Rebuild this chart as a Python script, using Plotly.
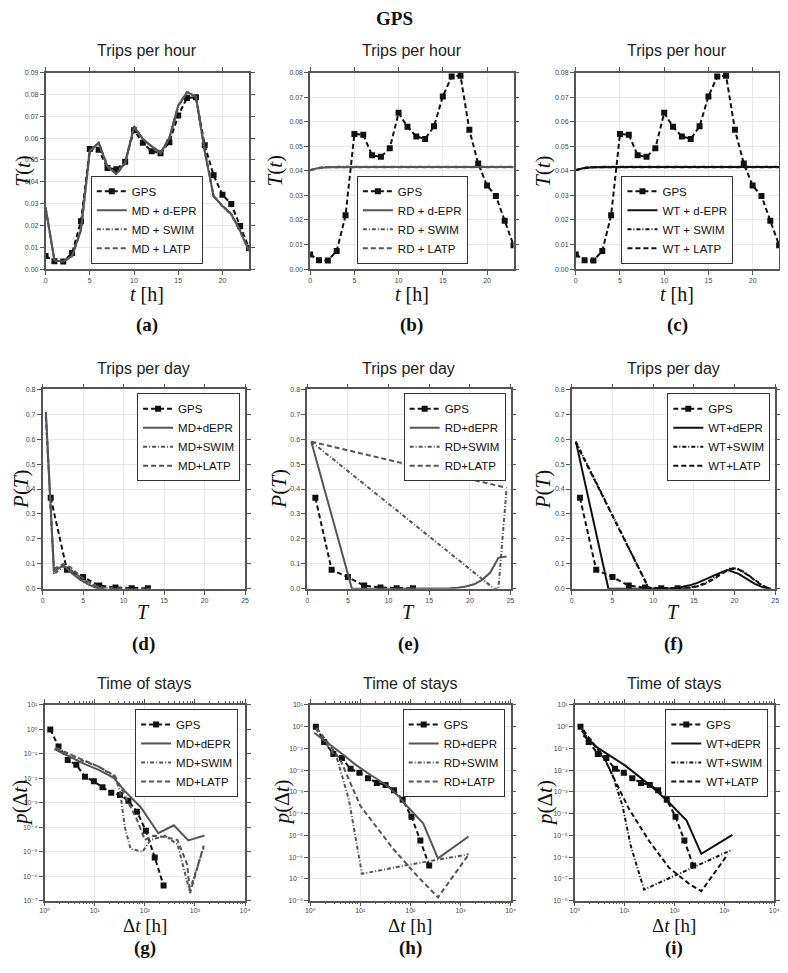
import plotly.graph_objects as go

W, H = 788, 973
OFF = 8  # page body margin offset

# ---------------- DATA ----------------
hours = list(range(24))
gps_hour = [0.0060, 0.0036, 0.0035, 0.0074, 0.0219, 0.0550, 0.0547, 0.0463, 0.0457, 0.0492,
            0.0636, 0.0579, 0.0540, 0.0530, 0.0581, 0.0703, 0.0784, 0.0787, 0.0567, 0.0430,
            0.0340, 0.0298, 0.0197, 0.0097]
md_depr_hour = [0.0284, 0.0040, 0.0035, 0.0060, 0.0180, 0.0540, 0.0580, 0.0470, 0.0436, 0.0486,
                0.0653, 0.0596, 0.0562, 0.0532, 0.0600, 0.0748, 0.0810, 0.0790, 0.0540, 0.0334,
                0.0289, 0.0251, 0.0175, 0.0084]
md_swim_hour = [0.0280, 0.0039, 0.0036, 0.0061, 0.0182, 0.0543, 0.0577, 0.0468, 0.0438, 0.0488,
                0.0650, 0.0598, 0.0560, 0.0530, 0.0598, 0.0745, 0.0808, 0.0792, 0.0538, 0.0336,
                0.0287, 0.0249, 0.0173, 0.0086]
md_latp_hour = [0.0282, 0.0041, 0.0034, 0.0059, 0.0178, 0.0538, 0.0579, 0.0472, 0.0434, 0.0484,
                0.0655, 0.0594, 0.0564, 0.0534, 0.0602, 0.0750, 0.0812, 0.0788, 0.0542, 0.0332,
                0.0291, 0.0253, 0.0177, 0.0082]
rd_depr_hour = [0.0403, 0.0412, 0.0415, 0.0416, 0.0416, 0.0416, 0.0416, 0.0416, 0.0416, 0.0416,
                0.0416, 0.0416, 0.0416, 0.0416, 0.0416, 0.0416, 0.0416, 0.0416, 0.0416, 0.0416,
                0.0416, 0.0416, 0.0416, 0.0416]
rd_swim_hour = [0.0404, 0.0413, 0.0416, 0.0417, 0.0417, 0.0417, 0.0417, 0.0417, 0.0417, 0.0417,
                0.0417, 0.0417, 0.0417, 0.0417, 0.0417, 0.0417, 0.0417, 0.0417, 0.0417, 0.0417,
                0.0417, 0.0417, 0.0417, 0.0417]
rd_latp_hour = [0.0402, 0.0411, 0.0415, 0.0415, 0.0415, 0.0415, 0.0415, 0.0415, 0.0415, 0.0415,
                0.0415, 0.0415, 0.0415, 0.0415, 0.0415, 0.0415, 0.0415, 0.0415, 0.0415, 0.0415,
                0.0415, 0.0415, 0.0415, 0.0415]
wt_depr_hour = [0.0403, 0.0412, 0.0415, 0.0416, 0.0416, 0.0416, 0.0416, 0.0416, 0.0416, 0.0416,
                0.0416, 0.0416, 0.0416, 0.0416, 0.0416, 0.0416, 0.0416, 0.0416, 0.0416, 0.0416,
                0.0416, 0.0416, 0.0416, 0.0416]
wt_swim_hour = [0.0404, 0.0413, 0.0416, 0.0417, 0.0417, 0.0417, 0.0417, 0.0417, 0.0417, 0.0417,
                0.0417, 0.0417, 0.0417, 0.0417, 0.0417, 0.0417, 0.0417, 0.0417, 0.0417, 0.0417,
                0.0417, 0.0417, 0.0417, 0.0417]
wt_latp_hour = [0.0402, 0.0411, 0.0415, 0.0415, 0.0415, 0.0415, 0.0415, 0.0415, 0.0415, 0.0415,
                0.0415, 0.0415, 0.0415, 0.0415, 0.0415, 0.0415, 0.0415, 0.0415, 0.0415, 0.0415,
                0.0415, 0.0415, 0.0415, 0.0415]

gps_day_x = [1, 3, 5, 7, 9, 11, 13]
gps_day_y = [0.365, 0.076, 0.047, 0.013, 0.005, 0.002, 0.002]
md_depr_day_x = [0.4, 1.4, 2.6, 3.5, 4.5, 5.5, 6.5, 7.5]
md_depr_day_y = [0.71, 0.07, 0.095, 0.065, 0.040, 0.020, 0.005, 0.0]
md_swim_day_x = [0.4, 1.4, 2.6, 3.5, 4.5, 5.5, 6.5, 7.5, 8.5]
md_swim_day_y = [0.70, 0.058, 0.09, 0.075, 0.050, 0.028, 0.010, 0.003, 0.001]
md_latp_day_x = [0.4, 1.4, 2.6, 3.5, 4.5, 5.5, 6.5, 7.5, 8.5, 9.5, 10.5]
md_latp_day_y = [0.69, 0.08, 0.10, 0.085, 0.055, 0.030, 0.012, 0.005, 0.003, 0.002, 0.001]
rd_depr_day_x = [0.5, 5.5, 10.5, 15.5, 17.5, 18.5, 19.5, 20.5, 21.5, 22.5, 23.5, 24.5]
rd_depr_day_y = [0.59, 0.0, 0.0, 0.0, 0.002, 0.004, 0.009, 0.018, 0.036, 0.065, 0.124, 0.13]
rd_swim_day_x = [0.5, 23.0, 23.5, 24.5]
rd_swim_day_y = [0.59, 0.0, 0.0, 0.40]
rd_latp_day_x = [0.5, 24.5]
rd_latp_day_y = [0.59, 0.405]
wt_depr_day_x = [0.5, 4.5, 8.5, 12.5, 13.5, 14.5, 15.5, 16.5, 17.5, 18.5, 19.2, 20.5, 21.5, 22.5, 23.5, 24.5]
wt_depr_day_y = [0.59, 0.0, 0.0, 0.002, 0.007, 0.014, 0.025, 0.040, 0.055, 0.068, 0.075, 0.060, 0.040, 0.020, 0.006, 0.0]
wt_swim_day_x = [0.5, 9.5, 13.5, 14.5, 15.5, 16.5, 17.5, 18.5, 19.5, 20.5, 21.5, 22.5, 23.5, 24.5]
wt_swim_day_y = [0.59, 0.0, 0.001, 0.005, 0.012, 0.025, 0.045, 0.066, 0.083, 0.080, 0.060, 0.035, 0.012, 0.0]
wt_latp_day_x = [0.5, 9.5, 13.5, 14.5, 15.5, 16.5, 17.5, 18.5, 19.5, 20.5, 21.5, 22.5, 23.5, 24.5]
wt_latp_day_y = [0.585, 0.0, 0.001, 0.004, 0.010, 0.022, 0.040, 0.062, 0.080, 0.078, 0.058, 0.033, 0.010, 0.0]

gps_stay_x = [1.3, 1.9, 2.9, 4.3, 6.4, 9.6, 14.3, 21.4, 32, 47, 70, 105, 158, 237]
gps_stay_y = [1.0, 0.2, 0.056, 0.036, 0.0115, 0.0076, 0.0043, 0.0026, 0.0021, 0.0012,
              0.00043, 7.1e-5, 5.8e-6, 4.1e-7]
md_depr_stay_x = [1.57, 3, 6, 12, 24, 40, 83, 186, 380, 740, 1550]
md_depr_stay_y = [0.158, 0.08, 0.04, 0.022, 0.0105, 0.003, 6.6e-4, 5.7e-5, 1.2e-4, 2.9e-5, 4.6e-5]
md_swim_stay_x = [1.7, 3, 6, 12, 25, 32, 40, 52, 90, 130, 250, 450, 780, 1500]
md_swim_stay_y = [0.18, 0.1, 0.05, 0.03, 0.012, 0.003, 1e-4, 1.3e-5, 1e-5, 3e-5, 4.5e-5, 2e-5, 2.5e-7, 1.5e-5]
md_latp_stay_x = [1.7, 3, 6, 12, 25, 40, 70, 100, 150, 250, 450, 700, 800, 1500]
md_latp_stay_y = [0.17, 0.1, 0.055, 0.03, 0.013, 0.002, 2e-4, 3e-5, 4.5e-5, 4e-5, 3e-5, 3e-6, 2e-7, 1.8e-5]
rd_depr_stay_x = [1.2, 2, 4, 8, 16, 32, 60, 84, 180, 355, 1450]
rd_depr_stay_y = [0.53, 0.22, 0.065, 0.018, 0.006, 0.0022, 6e-4, 2.3e-4, 3.6e-5, 8.7e-7, 8.9e-6]
rd_swim_stay_x = [1.3, 3.5, 5.9, 8.6, 10.8, 72, 1450]
rd_swim_stay_y = [0.8, 0.03, 4.6e-4, 3.3e-6, 1.7e-7, 4e-7, 1.35e-6]
rd_latp_stay_x = [1.35, 4, 10, 46, 155, 355, 1380]
rd_latp_stay_y = [0.9, 0.03, 2.3e-4, 2.3e-6, 1e-7, 1.4e-8, 1.1e-6]
wt_depr_stay_x = [1.48, 3, 10, 32, 71, 175, 345, 1450]
wt_depr_stay_y = [0.39, 0.1, 0.017, 0.0021, 4e-4, 4.8e-5, 1.4e-6, 1.05e-5]
wt_swim_stay_x = [1.38, 3.7, 5.8, 9.1, 13.3, 24.5, 1450]
wt_swim_stay_y = [0.65, 0.046, 0.0055, 2.2e-4, 3.2e-6, 3.2e-8, 2.2e-6]
wt_latp_stay_x = [1.48, 4, 6.7, 12.3, 31, 78, 204, 345, 1170]
wt_latp_stay_y = [0.72, 0.032, 0.0027, 1.6e-4, 5.5e-6, 3.2e-7, 5.5e-8, 2.7e-8, 1.35e-6]

hour_ticks = [0, 5, 10, 15, 20]
day_ticks = [0, 5, 10, 15, 20, 25]
hour_yticks_a = [0.00, 0.01, 0.02, 0.03, 0.04, 0.05, 0.06, 0.07, 0.08, 0.09]
hour_yticks_bc = [0.00, 0.01, 0.02, 0.03, 0.04, 0.05, 0.06, 0.07, 0.08]
day_yticks = [0.0, 0.1, 0.2, 0.3, 0.4, 0.5, 0.6, 0.7, 0.8]

# ---------------- STYLE ----------------
GRAY = '#555555'
BLACK = '#111111'
DASH = '5px,3px'
DASHDOT = '4px,2px,1px,2px'
SANS = 'Liberation Sans, DejaVu Sans, Arial, sans-serif'
SERIF = 'Liberation Serif, Times New Roman, serif'
SUP = str.maketrans('-0123456789', '⁻⁰¹²³⁴⁵⁶⁷⁸⁹')


def pow10(e):
    return '10' + str(e).translate(SUP)


def fx(x):
    return (x - OFF) / W


def fy(y):
    return 1 - (y - OFF) / H


# panel boxes in screen pixels (x0, x1, ytop, ybottom)
boxes = [
    (41, 247, 69, 267), (309, 515, 69, 267), (578, 784, 69, 267),
    (38, 243, 388, 589), (306, 512, 388, 589), (574, 780, 388, 589),
    (40, 243, 706, 903), (309, 512, 706, 903), (577, 779, 706, 903),
]
# legend anchors: (x, xanchor, ytop)
legend_pos = [(143.5, 'center', 173), (412.5, 'center', 173), (681, 'center', 173),
              (238, 'right', 392), (507, 'right', 392), (775, 'right', 392),
              (236, 'right', 710), (506, 'right', 710), (773, 'right', 710)]

fig = go.Figure()


def ax_names(k):
    return ('x' if k == 1 else f'x{k}', 'y' if k == 1 else f'y{k}',
            'xaxis' if k == 1 else f'xaxis{k}', 'yaxis' if k == 1 else f'yaxis{k}',
            'legend' if k == 1 else f'legend{k}')


def add(k, x, y, name, color, dash, marker=False):
    xr, yr, _, _, lg = ax_names(k)
    fig.add_trace(go.Scatter(
        x=x, y=y, name=name, xaxis=xr, yaxis=yr, legend=lg,
        mode='lines+markers' if marker else 'lines',
        line=dict(color=color, width=2, dash=dash),
        marker=dict(symbol='square', size=6, color=color) if marker else None,
    ))


prefixes = ['MD', 'RD', 'WT']
hour_models = [(md_depr_hour, md_swim_hour, md_latp_hour),
               (rd_depr_hour, rd_swim_hour, rd_latp_hour),
               (wt_depr_hour, wt_swim_hour, wt_latp_hour)]
day_models = [((md_depr_day_x, md_depr_day_y), (md_swim_day_x, md_swim_day_y), (md_latp_day_x, md_latp_day_y)),
              ((rd_depr_day_x, rd_depr_day_y), (rd_swim_day_x, rd_swim_day_y), (rd_latp_day_x, rd_latp_day_y)),
              ((wt_depr_day_x, wt_depr_day_y), (wt_swim_day_x, wt_swim_day_y), (wt_latp_day_x, wt_latp_day_y))]
stay_models = [((md_depr_stay_x, md_depr_stay_y), (md_swim_stay_x, md_swim_stay_y), (md_latp_stay_x, md_latp_stay_y)),
               ((rd_depr_stay_x, rd_depr_stay_y), (rd_swim_stay_x, rd_swim_stay_y), (rd_latp_stay_x, rd_latp_stay_y)),
               ((wt_depr_stay_x, wt_depr_stay_y), (wt_swim_stay_x, wt_swim_stay_y), (wt_latp_stay_x, wt_latp_stay_y))]

for c in range(3):
    p = prefixes[c]
    col = BLACK if p == 'WT' else GRAY
    k = 1 + c
    add(k, hours, gps_hour, 'GPS', BLACK, DASH, True)
    dep, sw, la = hour_models[c]
    add(k, hours, dep, f'{p} + d-EPR', col, 'solid')
    add(k, hours, sw, f'{p} + SWIM', col, DASHDOT)
    add(k, hours, la, f'{p} + LATP', col, DASH)
    k = 4 + c
    add(k, gps_day_x, gps_day_y, 'GPS', BLACK, DASH, True)
    (dx, dy), (sx, sy), (lx, ly) = day_models[c]
    add(k, dx, dy, f'{p}+dEPR', col, 'solid')
    add(k, sx, sy, f'{p}+SWIM', col, DASHDOT)
    add(k, lx, ly, f'{p}+LATP', col, DASH)
    k = 7 + c
    add(k, gps_stay_x, gps_stay_y, 'GPS', BLACK, DASH, True)
    (dx, dy), (sx, sy), (lx, ly) = stay_models[c]
    add(k, dx, dy, f'{p}+dEPR', col, 'solid')
    add(k, sx, sy, f'{p}+SWIM', col, DASHDOT)
    add(k, lx, ly, f'{p}+LATP', col, DASH)

base_axis = dict(showline=True, linecolor=GRAY, linewidth=1.5, mirror='allticks',
                 ticks='outside', ticklen=4, tickcolor=GRAY, tickwidth=1,
                 showgrid=True, gridcolor='#e8e8e8', gridwidth=1, zeroline=False,
                 tickmode='array',
                 tickfont=dict(size=7, color='#444444', family=SANS))

layout = dict(width=W, height=H, margin=dict(l=0, r=0, t=0, b=0),
              paper_bgcolor='white', plot_bgcolor='white', showlegend=True)

log_major = [1, 10, 100, 1000, 10000]
log_minor = [m * 10 ** e for e in range(4) for m in range(2, 10)]

for k in range(1, 10):
    x0, x1, yt, yb = boxes[k - 1]
    _, _, xa, ya, lg = ax_names(k)
    xr = 'x' if k == 1 else f'x{k}'
    yr = 'y' if k == 1 else f'y{k}'
    xax = dict(base_axis, domain=[fx(x0), fx(x1)], anchor=yr)
    yax = dict(base_axis, domain=[fy(yb), fy(yt)], anchor=xr)
    if k <= 3:
        xax.update(range=[0, 23], tickvals=hour_ticks, ticktext=[str(v) for v in hour_ticks])
        yt_vals = hour_yticks_a if k == 1 else hour_yticks_bc
        yax.update(range=[0, yt_vals[-1]], tickvals=yt_vals,
                   ticktext=[f'{v:.2f}' for v in yt_vals])
    elif k <= 6:
        xax.update(range=[0, 25], tickvals=day_ticks, ticktext=[str(v) for v in day_ticks])
        yax.update(range=[0, 0.8], tickvals=day_yticks,
                   ticktext=[f'{v:.1f}' for v in day_yticks])
    else:
        lo = -7 if k == 7 else -8
        xax.update(type='log', range=[0, 4], tickvals=log_major,
                   ticktext=[pow10(e) for e in range(5)],
                   ticklabelstandoff=-2,
                   minor=dict(tickmode='array', tickvals=log_minor, ticks='outside',
                              ticklen=2, tickcolor=GRAY, showgrid=False))
        yv = [10.0 ** e for e in range(lo, 2)]
        yax.update(type='log', range=[lo, 1], tickvals=yv,
                   ticktext=[pow10(e) for e in range(lo, 2)])
    layout[xa] = xax
    layout[ya] = yax
    lx, xanc, ly = legend_pos[k - 1]
    layout[lg] = dict(x=fx(lx), y=fy(ly), xanchor=xanc, yanchor='top',
                      xref='paper', yref='paper',
                      bgcolor='white', bordercolor='#333333', borderwidth=1,
                      font=dict(size=11.5, family=SANS, color='#111111'),
                      tracegroupgap=0, itemwidth=30)

fig.update_layout(**layout)

ann = []


def text(x, y, t, size, family, angle=0, color='#111111'):
    ann.append(dict(x=fx(x), y=fy(y), xref='paper', yref='paper', text=t,
                    showarrow=False, xanchor='center', yanchor='middle',
                    textangle=angle, font=dict(size=size, family=family, color=color)))


text(394, 15, '<b>GPS</b>', 19, SERIF)
row_titles = ['Trips per hour', 'Trips per day', 'Time of stays']
row_title_y = [47, 367, 684]
xlabels = ['<i>t</i> [h]', '<i>T</i>', 'Δ<i>t</i> [h]']
xlabel_y = [292, 612, 928]
xlabel_size = [20, 20, 19]
ylabels = ['<i>T</i>(<i>t</i>)', '<i>P</i>(<i>T</i>)', '<i>p</i>(Δ<i>t</i>)']
ylabel_x = [[18, 273, 545], [16, 277, 545], [15, 280, 547]]
letter_y = [323, 645, 951]
letters = 'abcdefghi'
for r in range(3):
    for c in range(3):
        k = r * 3 + c
        x0, x1, yt, yb = boxes[k]
        cx = (x0 + x1) / 2
        text(cx, row_title_y[r], row_titles[r], 16, SANS, color='#222222')
        text(cx, xlabel_y[r], xlabels[r], xlabel_size[r], SERIF)
        text(ylabel_x[r][c], (yt + yb) / 2, ylabels[r], 21, SERIF, angle=-90)
        text(cx, letter_y[r], f'<b>({letters[k]})</b>', 19, SERIF)

fig.update_layout(annotations=ann)
fig.write_html('out.html')
